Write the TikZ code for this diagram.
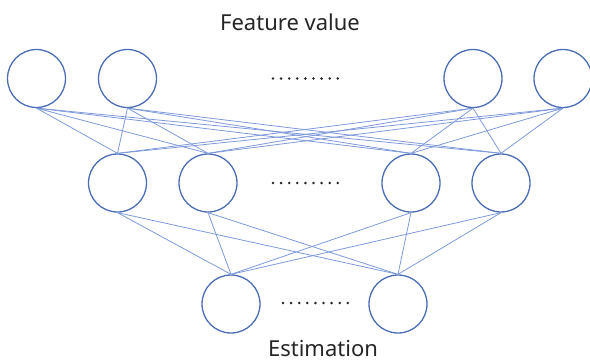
\documentclass[tikz,border=0pt]{standalone}
\usepackage{fontspec}
\setmainfont{Noto Sans}
\begin{document}
\begin{tikzpicture}[x=1pt,y=-1pt,
  neuron/.style={circle,draw=nodeblue,line width=1.3pt,minimum size=58pt,inner sep=0pt},
  link/.style={draw=linkblue,line width=0.8pt},
  label/.style={font=\fontsize{22}{26}\selectfont,text=black!85,anchor=base,inner sep=0pt}]
\definecolor{nodeblue}{HTML}{4A6DB5}
\definecolor{linkblue}{HTML}{7E9ADB}
\useasboundingbox (0,0) rectangle (590,362);

% input layer
\node[neuron] (a1) at (36.5,78.5) {};
\node[neuron] (a2) at (127.5,78.5) {};
\node[neuron] (a3) at (473,78.5) {};
\node[neuron] (a4) at (563,78.5) {};

% hidden layer
\node[neuron] (b1) at (117.5,183) {};
\node[neuron] (b2) at (208,183) {};
\node[neuron] (b3) at (411,183) {};
\node[neuron] (b4) at (501,183) {};

% output layer
\node[neuron] (c1) at (231,304) {};
\node[neuron] (c2) at (398,304) {};

% connections
\foreach \i in {a1,a2,a3,a4}
  \foreach \j in {b1,b2,b3,b4}
    \draw[link] (\i.south) -- (\j.north);
\foreach \i in {b1,b2,b3,b4}
  \foreach \j in {c1,c2}
    \draw[link] (\i.south) -- (\j.north);

% ellipsis dots
\foreach \x/\y in {273/78.5, 273/183, 283/303}
  \foreach \k in {0,...,8}
    \fill[black!85] (\x+\k*8.1,\y) circle (1.4pt);

\node[label] (top) at (290,30) {Feature value};
\node[label] (bot) at (323,356) {Estimation};
\end{tikzpicture}
\end{document}
